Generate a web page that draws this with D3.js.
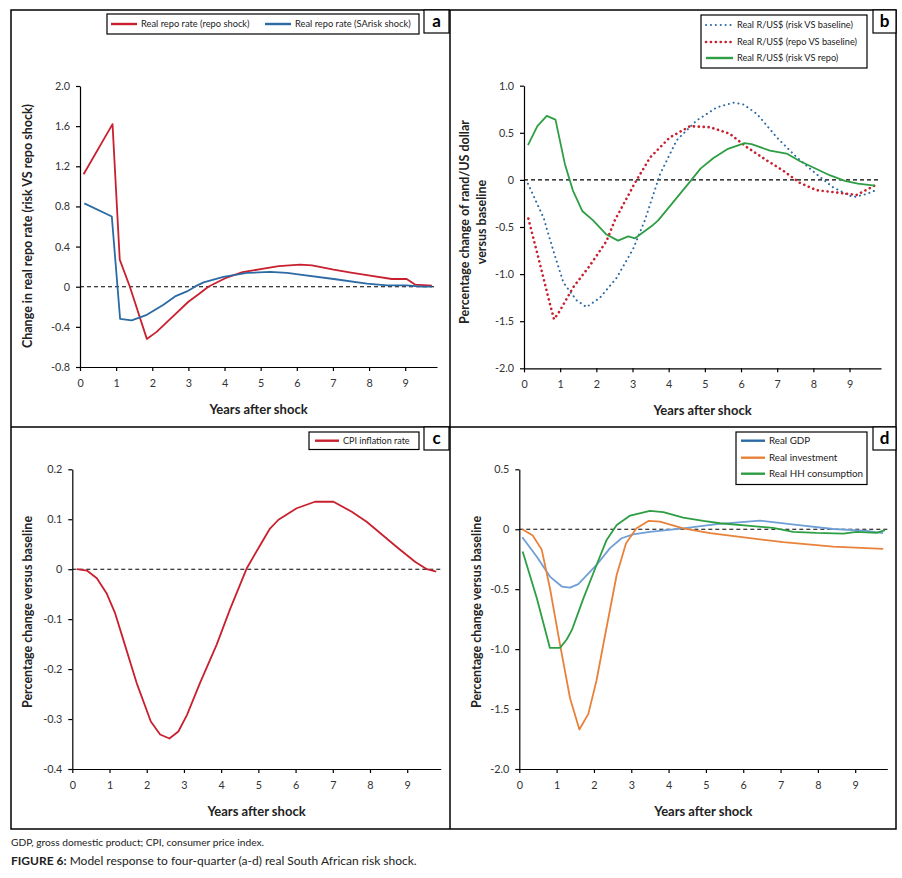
<!DOCTYPE html>
<meta charset="utf-8">
<head>
  <title>Figure 6</title>
  <script src="https://cdnjs.cloudflare.com/ajax/libs/d3/7.8.5/d3.min.js"></script>
  <style>
    body {
      margin: 0;
      background: white;
      font-family: Lato, "Open Sans", sans-serif;
    }
    .tick text { fill: #333; font-size: 10.8px; font-family: Lato, "Open Sans", sans-serif; }
    .tick line, .domain { stroke: black; stroke-width: 1.2; }
  </style>
</head>
<body>
<div id="chart"></div>
<script>
  // years after shock
  var xTicks = [0, 1, 2, 3, 4, 5, 6, 7, 8, 9];

  // a - real repo rate
  var yTicksA = [-0.8, -0.4, 0, 0.4, 0.8, 1.2, 1.6, 2.0];
  var repoRateRepoShock = [[0.1,1.12],[0.9,1.62],[1.1,0.27],[1.38,0.0],[1.85,-0.52],[2.12,-0.45],[2.5,-0.32],[3.0,-0.15],[3.3,-0.07],[3.55,0.0],[4.02,0.085],[4.5,0.145],[5.08,0.18],[5.5,0.205],[6.09,0.22],[6.42,0.213],[7.02,0.17],[7.5,0.14],[8.03,0.11],[8.63,0.077],[9.04,0.077],[9.28,0.02],[9.74,0.01]];
  var repoRateRiskShock = [[0.12,0.83],[0.88,0.70],[1.11,-0.32],[1.43,-0.335],[1.85,-0.28],[2.31,-0.18],[2.63,-0.097],[2.96,-0.047],[3.19,0.003],[3.42,0.043],[3.97,0.097],[4.62,0.137],[5.26,0.147],[5.73,0.137],[6.09,0.12],[7.02,0.077],[7.94,0.03],[8.5,0.013],[9.04,0.013],[9.46,0.0],[9.74,0.0]];

  // b - real R/US$
  var yTicksB = [-2.0, -1.5, -1.0, -0.5, 0, 0.5, 1.0];
  var randRiskVsBase = [[0.11,-0.04],[0.55,-0.41],[0.63,-0.52],[0.85,-0.8],[1.09,-1.09],[1.3,-1.2],[1.46,-1.28],[1.73,-1.35],[2.1,-1.25],[2.56,-1.04],[3.02,-0.73],[3.34,-0.43],[3.76,0.06],[4.22,0.42],[4.77,0.63],[5.33,0.77],[5.8,0.82],[6.07,0.8],[6.44,0.70],[6.99,0.45],[7.54,0.24],[8.09,0.06],[8.55,-0.08],[9.01,-0.17],[9.15,-0.18],[9.47,-0.15],[9.72,-0.11]];
  var randRepoVsBase = [[0.12,-0.41],[0.44,-0.89],[0.72,-1.32],[0.83,-1.48],[0.99,-1.39],[1.36,-1.14],[1.82,-0.91],[2.28,-0.65],[2.51,-0.43],[3.07,-0.03],[3.49,0.24],[4.03,0.45],[4.59,0.57],[5.14,0.56],[5.69,0.49],[6.15,0.35],[6.7,0.21],[7.16,0.1],[7.62,-0.03],[8.09,-0.11],[8.55,-0.13],[9.19,-0.16],[9.7,-0.06]];
  var randRiskVsRepo = [[0.11,0.37],[0.37,0.57],[0.63,0.68],[0.87,0.64],[1.13,0.17],[1.35,-0.11],[1.61,-0.33],[1.91,-0.43],[2.28,-0.58],[2.6,-0.645],[2.88,-0.6],[3.07,-0.62],[3.53,-0.49],[3.71,-0.43],[4.63,0.0],[4.88,0.12],[5.23,0.23],[5.64,0.33],[6.1,0.39],[6.29,0.38],[6.8,0.31],[7.26,0.28],[7.62,0.2],[8.45,0.05],[8.87,-0.01],[9.23,-0.04],[9.7,-0.06]];

  // c - CPI inflation
  var yTicksC = [-0.4, -0.3, -0.2, -0.1, 0, 0.1, 0.2];
  var cpiInflation = [[0.12,0.0],[0.4,-0.003],[0.66,-0.018],[0.92,-0.048],[1.15,-0.088],[1.37,-0.141],[1.73,-0.228],[2.11,-0.305],[2.36,-0.331],[2.61,-0.339],[2.85,-0.325],[3.08,-0.292],[3.43,-0.228],[3.88,-0.151],[4.24,-0.08],[4.69,0.002],[5.0,0.042],[5.3,0.08],[5.54,0.099],[6.03,0.122],[6.52,0.135],[7.02,0.135],[7.51,0.115],[7.91,0.095],[8.76,0.042],[9.21,0.015],[9.53,0.0],[9.78,-0.005]];

  // d - GDP, investment, consumption
  var yTicksD = [-2.0, -1.5, -1.0, -0.5, 0, 0.5];
  var realGdp = [[0.08,-0.067],[0.47,-0.23],[0.82,-0.395],[1.14,-0.478],[1.36,-0.487],[1.58,-0.458],[2.07,-0.298],[2.43,-0.158],[2.74,-0.075],[3.05,-0.042],[3.5,-0.022],[4.39,0.008],[5.29,0.042],[6.45,0.072],[7.43,0.036],[8.41,0.002],[9.3,-0.014],[9.75,-0.033]];
  var realInvestment = [[0.08,0.0],[0.36,-0.053],[0.6,-0.17],[0.82,-0.49],[1.09,-0.96],[1.36,-1.41],[1.61,-1.67],[1.85,-1.54],[2.07,-1.26],[2.27,-0.93],[2.61,-0.38],[2.86,-0.117],[3.14,0.008],[3.46,0.069],[3.77,0.064],[4.39,0.008],[5.11,-0.033],[6.18,-0.075],[7.07,-0.108],[8.41,-0.145],[9.75,-0.164]];
  var realConsumption = [[0.09,-0.186],[0.47,-0.575],[0.82,-0.99],[1.09,-0.99],[1.27,-0.92],[1.41,-0.84],[1.72,-0.575],[2.07,-0.298],[2.34,-0.089],[2.61,0.036],[2.97,0.114],[3.5,0.153],[3.86,0.142],[4.39,0.097],[4.93,0.069],[5.38,0.05],[6.18,0.028],[6.8,0.011],[7.34,-0.022],[7.96,-0.031],[8.68,-0.036],[9.04,-0.022],[9.57,-0.031],[9.8,-0.008]];

  var RED = "#c8202e", BLUE = "#2c6aa4", LIGHTBLUE = "#6f9fd6", GREEN = "#2e9e44", ORANGE = "#e8823a";

  var svg = d3.select("#chart").append("svg")
    .attr("width", 902)
    .attr("height", 878);

  // frame
  svg.append("rect").attr("x", 11).attr("y", 10).attr("width", 885).attr("height", 819)
    .attr("fill", "none").attr("stroke", "black").attr("stroke-width", 1.5);
  svg.append("line").attr("x1", 450).attr("x2", 450).attr("y1", 10).attr("y2", 829)
    .attr("stroke", "black").attr("stroke-width", 1.5);
  svg.append("line").attr("x1", 11).attr("x2", 896).attr("y1", 427).attr("y2", 427)
    .attr("stroke", "black").attr("stroke-width", 1.5);

  function fmt(d) {
    return d === 0 ? "0" : d.toFixed(1);
  }

  function drawPanel(p) {
    var x = d3.scaleLinear().domain([0, p.xMax]).range([p.left, p.right]);
    var y = d3.scaleLinear().domain([p.yTicks[0], p.yTicks[p.yTicks.length - 1]]).range([p.bottom, p.top]);
    var g = svg.append("g");

    // baseline at zero
    g.append("line")
      .attr("x1", x(0)).attr("x2", p.right)
      .attr("y1", y(0)).attr("y2", y(0))
      .attr("stroke", "black").attr("stroke-width", 1.1)
      .attr("stroke-dasharray", "4,3");

    g.append("g")
      .attr("transform", "translate(" + p.left + ",0)")
      .call(d3.axisLeft(y).tickValues(p.yTicks).tickSize(4).tickSizeOuter(0).tickPadding(6).tickFormat(fmt));

    g.append("g")
      .attr("transform", "translate(0," + p.bottom + ")")
      .call(d3.axisBottom(x).tickValues(xTicks).tickSize(4).tickSizeOuter(0).tickPadding(8).tickFormat(d3.format("d")));

    var line = d3.line().x(function(d) { return x(d[0]); }).y(function(d) { return y(d[1]); });

    p.series.forEach(function(s) {
      var path = g.append("path")
        .datum(s.data)
        .attr("d", line)
        .attr("fill", "none")
        .attr("stroke", s.plotColor || s.color)
        .attr("stroke-width", s.width)
        .attr("stroke-linejoin", "round");
      if (s.dash) {
        path.attr("stroke-dasharray", s.dash).attr("stroke-linecap", "round");
      }
    });

    // axis titles
    g.append("text")
      .attr("x", (p.left + p.right) / 2).attr("y", p.bottom + 47)
      .attr("text-anchor", "middle")
      .style("font-size", "13px").style("font-weight", "bold").style("fill", "#222")
      .text("Years after shock");

    p.yTitle.forEach(function(t, i) {
      g.append("text")
        .attr("transform", "translate(" + (p.yTitleX + i * 17) + "," + p.yTitleY + ") rotate(-90)")
        .attr("text-anchor", "middle")
        .style("font-size", "12.5px").style("font-weight", "bold").style("fill", "#222")
        .text(t);
    });

    // legend
    var L = p.legend;
    g.append("rect").attr("x", L.x).attr("y", L.y).attr("width", L.w).attr("height", L.h)
      .attr("fill", "white").attr("stroke", "black").attr("stroke-width", 1.2);
    p.series.forEach(function(s, i) {
      var lx = L.items[i][0], ly = L.items[i][1];
      var ll = g.append("line")
        .attr("x1", lx).attr("x2", lx + L.len)
        .attr("y1", ly).attr("y2", ly)
        .attr("stroke", s.color).attr("stroke-width", s.dash ? s.width : 2.4);
      if (s.dash) ll.attr("stroke-dasharray", s.dash).attr("stroke-linecap", "round");
      g.append("text")
        .attr("x", lx + L.len + 4).attr("y", ly + 3.2)
        .style("font-size", L.size + "px").style("fill", "#222")
        .text(s.name);
    });

    // panel letter
    g.append("rect").attr("x", p.tag[0]).attr("y", p.tag[1]).attr("width", p.tag[2] - p.tag[0]).attr("height", 23)
      .attr("fill", "white").attr("stroke", "black").attr("stroke-width", 1.2);
    g.append("text")
      .attr("x", (p.tag[0] + p.tag[2]) / 2).attr("y", p.tag[1] + 17)
      .attr("text-anchor", "middle")
      .style("font-size", "17px").style("font-weight", "bold")
      .text(p.letter);
  }

  drawPanel({
    left: 80, right: 437, top: 86, bottom: 367, xMax: 9.88, yTicks: yTicksA,
    series: [
      { name: "Real repo rate (repo shock)", data: repoRateRepoShock, color: RED, width: 1.8 },
      { name: "Real repo rate (SArisk shock)", data: repoRateRiskShock, color: BLUE, width: 1.8 }
    ],
    legend: { x: 107, y: 14, w: 312, h: 20, len: 26, size: 9.3, items: [[111, 24], [265, 24]] },
    yTitle: ["Change in real repo rate (risk VS repo shock)"], yTitleX: 32, yTitleY: 226,
    tag: [424, 10, 449], letter: "a"
  });

  drawPanel({
    left: 524, right: 881, top: 85.7, bottom: 368.3, xMax: 9.87, yTicks: yTicksB,
    series: [
      { name: "Real R/US$ (risk VS baseline)", data: randRiskVsBase, color: BLUE, width: 2, dash: "0.1,4.8" },
      { name: "Real R/US$ (repo VS baseline)", data: randRepoVsBase, color: RED, width: 2.6, dash: "0.1,4.8" },
      { name: "Real R/US$ (risk VS repo)", data: randRiskVsRepo, color: GREEN, width: 1.8 }
    ],
    legend: { x: 701, y: 15, w: 166, h: 53, len: 27, size: 9.2, items: [[706, 25], [706, 42], [706, 58]] },
    yTitle: ["Percentage change of rand/US dollar", "versus baseline"], yTitleX: 469, yTitleY: 222,
    tag: [873, 10, 896], letter: "b"
  });

  drawPanel({
    left: 72.3, right: 440.7, top: 469.3, bottom: 769, xMax: 9.9, yTicks: yTicksC,
    series: [
      { name: "CPI inflation rate", data: cpiInflation, color: RED, width: 1.8 }
    ],
    legend: { x: 309, y: 432, w: 110, h: 17.5, len: 24, size: 9, items: [[315, 440.7]] },
    yTitle: ["Percentage change versus baseline"], yTitleX: 32, yTitleY: 612,
    tag: [424, 427, 449], letter: "c"
  });

  drawPanel({
    left: 519.3, right: 887.3, top: 469.3, bottom: 769, xMax: 9.86, yTicks: yTicksD,
    series: [
      { name: "Real GDP", data: realGdp, color: BLUE, plotColor: LIGHTBLUE, width: 1.8 },
      { name: "Real investment", data: realInvestment, color: ORANGE, width: 1.8 },
      { name: "Real HH consumption", data: realConsumption, color: GREEN, width: 1.8 }
    ],
    legend: { x: 736, y: 432, w: 131, h: 52.5, len: 24, size: 9.8, items: [[741, 440.7], [741, 457.7], [741, 473.7]] },
    yTitle: ["Percentage change versus baseline"], yTitleX: 481, yTitleY: 612,
    tag: [873, 427, 896], letter: "d"
  });

  // caption
  svg.append("text").attr("x", 11).attr("y", 846)
    .style("font-size", "10.2px").style("fill", "#222")
    .text("GDP, gross domestic product; CPI, consumer price index.");
  var cap = svg.append("text").attr("x", 11).attr("y", 865)
    .style("font-size", "12px").style("fill", "#222");
  cap.append("tspan").style("font-weight", "bold").text("FIGURE 6:");
  cap.append("tspan").text(" Model response to four-quarter (a-d) real South African risk shock.");
</script>
</body>
